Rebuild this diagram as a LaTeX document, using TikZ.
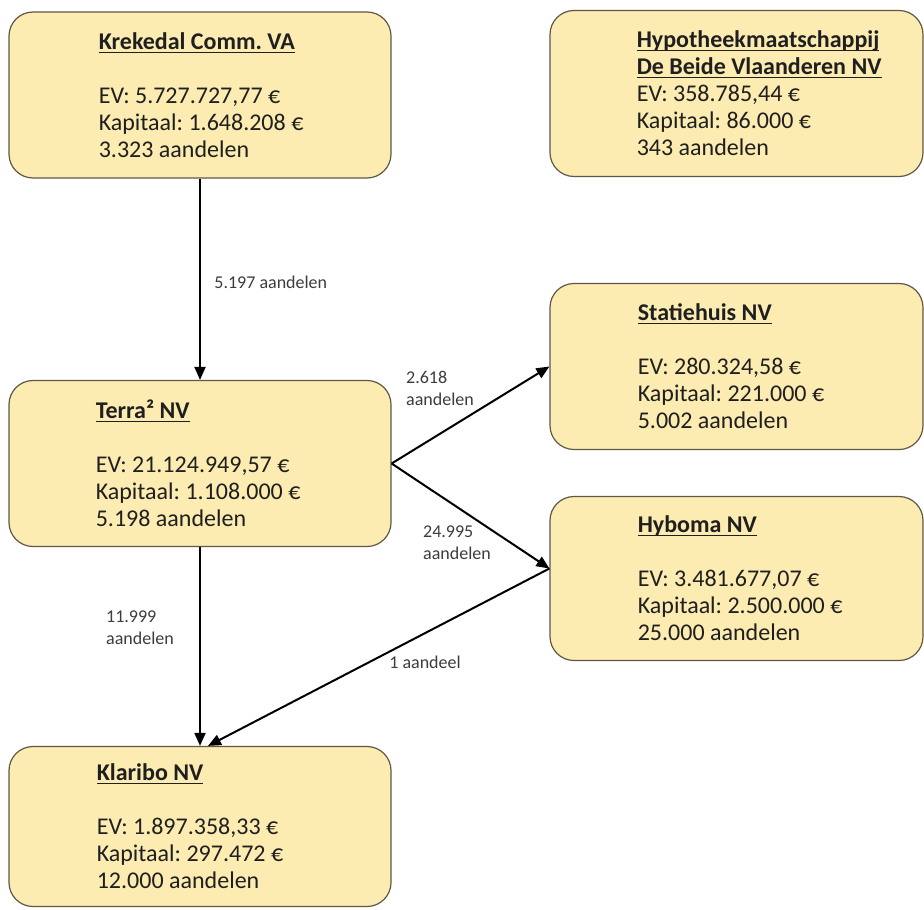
\documentclass[tikz,border=0pt]{standalone}
\usepackage{fontspec}
\setmainfont{Carlito}
\usetikzlibrary{arrows.meta}
\definecolor{boxfill}{RGB}{252,236,178}
\definecolor{boxline}{RGB}{95,88,70}
\definecolor{labelgray}{RGB}{60,60,60}
\newcommand{\firm}[1]{\textbf{\setbox0\hbox{#1}\rlap{\rule[-1.7pt]{\wd0}{0.6pt}}\box0}}
\frenchspacing

\begin{document}
\begin{tikzpicture}[x=0.5pt, y=-0.5pt,
	company/.style={shape=rectangle, rounded corners=12pt, draw=boxline, fill=boxfill, line width=0.6pt, minimum width=191pt, minimum height=83pt, inner sep=0pt},
	info/.style={anchor=west, align=left, inner sep=0pt, text=black!88, font=\fontsize{12}{13.5}\selectfont},
	share/.style={align=left, inner sep=1pt, text=labelgray, font=\fontsize{9}{11}\selectfont},
	owns/.style={-{Triangle[length=6.5pt, width=5.5pt]}, line width=1pt}]
	\useasboundingbox (0,0) rectangle (924,909);

	\node[company]                                              (kre) at (200,95)      {};
	\node[company, minimum width=186.5pt]                       (hyp) at (736.5,93.5)  {};
	\node[company]                                              (ter) at (200,463.5)   {};
	\node[company, minimum width=186.5pt]                       (sta) at (736.5,366.5) {};
	\node[company, minimum width=186.5pt, minimum height=82pt]  (hyb) at (736.5,578.5) {};
	\node[company, minimum height=80pt]                         (kla) at (200,826.5)   {};

	\node[info] (kreT) at ([xshift=45pt]kre.west) {\firm{Krekedal Comm. VA}\\[13.5pt]EV: 5.727.727,77 €\\Kapitaal: 1.648.208 €\\3.323 aandelen};
	\node[info] (hypT) at ([xshift=43.5pt]hyp.west) {\firm{Hypotheekmaatschappij}\\\firm{De Beide Vlaanderen NV}\\EV: 358.785,44 €\\Kapitaal: 86.000 €\\343 aandelen};
	\node[info] (terT) at ([xshift=43.5pt]ter.west) {\firm{Terra² NV}\\[13.5pt]EV: 21.124.949,57 €\\Kapitaal: 1.108.000 €\\5.198 aandelen};
	\node[info] (staT) at ([xshift=44pt]sta.west) {\firm{Statiehuis NV}\\[13.5pt]EV: 280.324,58 €\\Kapitaal: 221.000 €\\5.002 aandelen};
	\node[info] (hybT) at ([xshift=44pt]hyb.west) {\firm{Hyboma NV}\\[13.5pt]EV: 3.481.677,07 €\\Kapitaal: 2.500.000 €\\25.000 aandelen};
	\node[info] (klaT) at ([xshift=44pt]kla.west) {\firm{Klaribo NV}\\[13.5pt]EV: 1.897.358,33 €\\Kapitaal: 297.472 €\\12.000 aandelen};

	\draw [owns] (kre.south) -- (ter.north);
	\draw [owns] (ter.east) -- (sta.west);
	\draw [owns] (ter.east) -- ([yshift=5pt]hyb.west);
	\draw [owns] (ter.south) -- (kla.north);
	\draw [owns] ([yshift=5pt]hyb.west) -- ([xshift=4pt]kla.north);

	\node[share, anchor=west] (l1) at (212,282) {5.197 aandelen};
	\node[share]              (l2) at (440,388) {2.618\\aandelen};
	\node[share]              (l3) at (457,543) {24.995\\aandelen};
	\node[share]              (l4) at (140,628) {11.999\\aandelen};
	\node[share]              (l5) at (425,662) {1 aandeel};
\end{tikzpicture}
\end{document}
